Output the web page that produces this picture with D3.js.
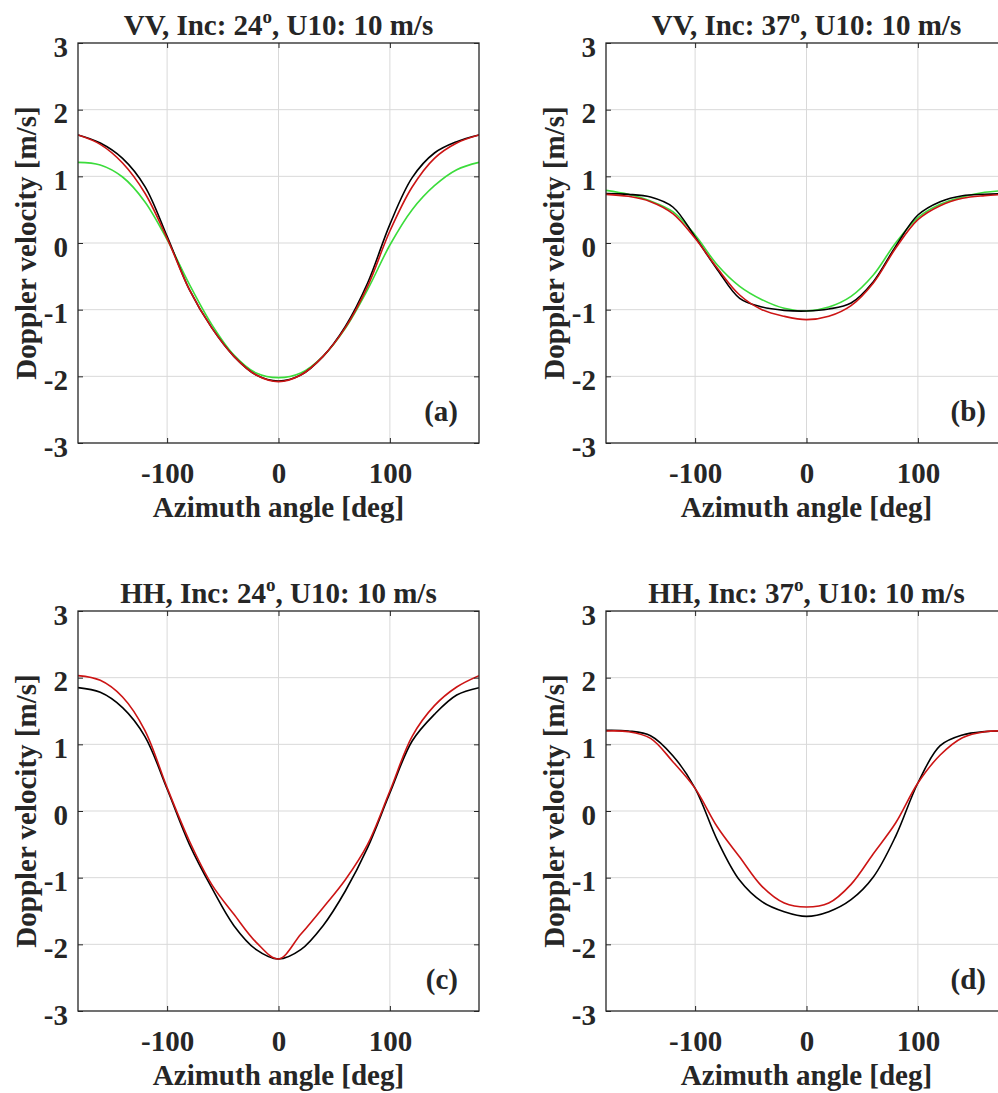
<!DOCTYPE html>
<html>
<head>
<meta charset="utf-8">
<script src="https://cdn.jsdelivr.net/npm/d3@7"></script>
<style>
  body { margin: 0; background: #fff; }
  svg { display: block; }
  text { font-family: "Liberation Serif", "Times New Roman", serif; font-weight: bold; fill: #262626; }
</style>
</head>
<body>
<div id="chart"></div>
<script>
// azimuth angles [deg]
const angles = [-180, -160, -140, -120, -100, -80, -60, -40, -20, 0, 20, 40, 60, 80, 100, 120, 140, 160, 180];

// VV, inc 24
const vv24Black = [1.62, 1.5, 1.27, 0.85, 0.1, -0.7, -1.27, -1.7, -1.98, -2.07, -1.98, -1.7, -1.25, -0.6, 0.28, 0.98, 1.35, 1.52, 1.62];
const vv24Red   = [1.62, 1.48, 1.2, 0.75, 0.07, -0.7, -1.27, -1.7, -1.98, -2.08, -1.98, -1.7, -1.27, -0.65, 0.18, 0.84, 1.27, 1.5, 1.62];
const vv24Green = [1.21, 1.17, 0.99, 0.62, 0.05, -0.62, -1.22, -1.68, -1.95, -2.02, -1.95, -1.7, -1.28, -0.7, -0.03, 0.5, 0.86, 1.1, 1.21];

// VV, inc 37
const vv37Black = [0.74, 0.73, 0.69, 0.54, 0.09, -0.4, -0.83, -0.96, -1.01, -1.02, -0.99, -0.9, -0.58, -0.05, 0.42, 0.62, 0.71, 0.73, 0.74];
const vv37Red   = [0.73, 0.7, 0.62, 0.44, 0.07, -0.38, -0.78, -1.0, -1.1, -1.15, -1.1, -0.94, -0.6, -0.08, 0.35, 0.56, 0.67, 0.71, 0.73];
const vv37Green = [0.79, 0.73, 0.63, 0.47, 0.12, -0.33, -0.65, -0.85, -0.98, -1.02, -0.96, -0.8, -0.48, 0.0, 0.38, 0.58, 0.69, 0.76, 0.79];

// HH, inc 24
const hh24Black = [1.85, 1.78, 1.55, 1.12, 0.33, -0.5, -1.15, -1.72, -2.08, -2.22, -2.08, -1.72, -1.2, -0.55, 0.27, 1.05, 1.45, 1.74, 1.85];
const hh24Red   = [2.03, 1.96, 1.71, 1.21, 0.35, -0.45, -1.1, -1.55, -1.97, -2.22, -1.85, -1.45, -1.03, -0.5, 0.3, 1.12, 1.58, 1.86, 2.03];

// HH, inc 37
const hh37Black = [1.21, 1.2, 1.13, 0.83, 0.34, -0.44, -1.04, -1.36, -1.51, -1.58, -1.51, -1.33, -0.99, -0.38, 0.42, 0.98, 1.14, 1.19, 1.2];
const hh37Red   = [1.2, 1.19, 1.09, 0.74, 0.34, -0.24, -0.69, -1.13, -1.38, -1.44, -1.38, -1.1, -0.64, -0.18, 0.42, 0.84, 1.1, 1.19, 1.2];

const xTicks = [-100, 0, 100];
const yTicks = [-3, -2, -1, 0, 1, 2, 3];

const panels = [
  { pol: 'VV', inc: '24', tag: '(a)', left: 78,  top: 43,  series: [vv24Black, vv24Red, vv24Green] },
  { pol: 'VV', inc: '37', tag: '(b)', left: 606, top: 43,  series: [vv37Black, vv37Red, vv37Green] },
  { pol: 'HH', inc: '24', tag: '(c)', left: 78,  top: 611, series: [hh24Black, hh24Red] },
  { pol: 'HH', inc: '37', tag: '(d)', left: 606, top: 611, series: [hh37Black, hh37Red] }
];
const colors = ['#000000', '#cc1414', '#3bdc3b'];

const W = 998, H = 1093;
const pw = 401, ph = 400;
const axisCol = '#262626', gridCol = '#d9d9d9';

const svg = d3.select('#chart').append('svg')
  .attr('width', W).attr('height', H);
svg.append('rect').attr('width', W).attr('height', H).attr('fill', '#fff');

panels.forEach((p, i) => {
  const x = d3.scaleLinear().domain([-180, 180]).range([0, pw]);
  const y = d3.scaleLinear().domain([-3, 3]).range([ph, 0]);
  const g = svg.append('g').attr('transform', `translate(${p.left},${p.top})`);

  // grid
  g.append('g').selectAll('line').data(xTicks).join('line')
    .attr('x1', d => x(d)).attr('x2', d => x(d)).attr('y1', 0).attr('y2', ph)
    .attr('stroke', gridCol).attr('stroke-width', 1);
  g.append('g').selectAll('line').data(yTicks.slice(1, -1)).join('line')
    .attr('y1', d => y(d)).attr('y2', d => y(d)).attr('x1', 0).attr('x2', pw)
    .attr('stroke', gridCol).attr('stroke-width', 1);

  // curves
  const clipId = 'clip' + i;
  g.append('clipPath').attr('id', clipId).append('rect').attr('width', pw).attr('height', ph);
  const line = d3.line()
    .x((d, k) => x(angles[k]))
    .y(d => y(d))
    .curve(d3.curveCatmullRom.alpha(0.5));
  const curves = g.append('g').attr('clip-path', `url(#${clipId})`);
  [2, 0, 1].forEach(s => {
    if (!p.series[s]) return;
    curves.append('path')
      .datum(p.series[s])
      .attr('d', line)
      .attr('fill', 'none')
      .attr('stroke', colors[s])
      .attr('stroke-width', 1.6);
  });

  // axes
  const fmt = d => String(d);
  const xb = g.append('g').attr('transform', `translate(0,${ph})`)
    .call(d3.axisBottom(x).tickValues(xTicks).tickSize(-5).tickPadding(19).tickFormat(fmt));
  const xt = g.append('g')
    .call(d3.axisTop(x).tickValues(xTicks).tickSize(-5).tickFormat(''));
  const yl = g.append('g')
    .call(d3.axisLeft(y).tickValues(yTicks).tickSize(-5).tickPadding(10).tickFormat(fmt));
  const yr = g.append('g').attr('transform', `translate(${pw},0)`)
    .call(d3.axisRight(y).tickValues(yTicks).tickSize(-5).tickFormat(''));
  [xb, xt, yl, yr].forEach(a => {
    a.select('.domain').remove();
    a.selectAll('.tick line').attr('stroke', axisCol);
    a.selectAll('text').attr('font-size', 29).attr('fill', axisCol)
      .style('font-family', '"Liberation Serif", "Times New Roman", serif')
      .style('font-weight', 'bold');
  });
  yl.selectAll('text').attr('dy', '0.45em');

  g.append('rect').attr('width', pw).attr('height', ph)
    .attr('fill', 'none').attr('stroke', axisCol).attr('stroke-width', 1.3);

  // title
  const t = g.append('text').attr('x', pw / 2).attr('y', -8)
    .attr('text-anchor', 'middle').attr('font-size', 29);
  t.append('tspan').text(`${p.pol}, Inc: ${p.inc}`);
  t.append('tspan').attr('font-size', 19).attr('dy', -12).text('o');
  t.append('tspan').attr('dy', 12).text(', U10: 10 m/s');

  // axis labels
  g.append('text').attr('x', pw / 2).attr('y', ph + 74)
    .attr('text-anchor', 'middle').attr('font-size', 29)
    .text('Azimuth angle [deg]');
  g.append('text')
    .attr('transform', `translate(-42,${ph / 2}) rotate(-90)`)
    .attr('text-anchor', 'middle').attr('font-size', 29)
    .text('Doppler velocity [m/s]');

  // panel tag
  g.append('text').attr('x', pw - 21).attr('y', ph - 22)
    .attr('text-anchor', 'end').attr('font-size', 29)
    .text(p.tag);
});
</script>
</body>
</html>
